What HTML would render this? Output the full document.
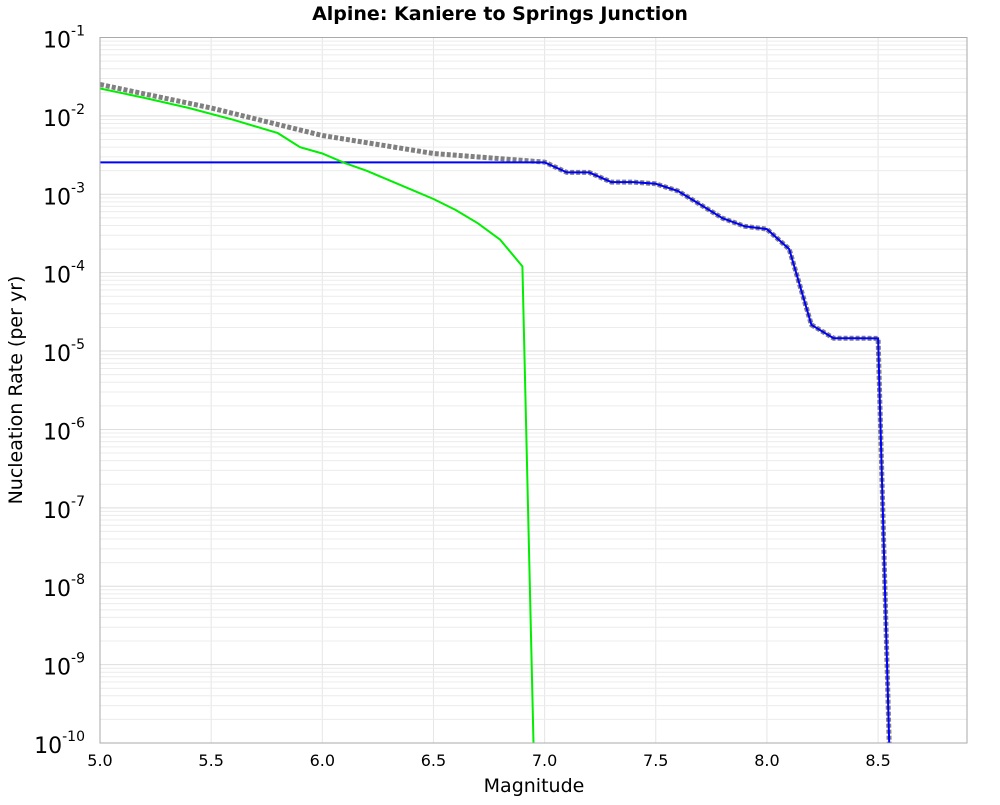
<!DOCTYPE html>
<html><head><meta charset="utf-8"><style>
body{margin:0;background:#fff;}
svg text{font-family:"DejaVu Sans","Liberation Sans",sans-serif;}
</style></head><body>
<svg id="chart" width="1000" height="800" xmlns="http://www.w3.org/2000/svg">
<text x="500" y="20" text-anchor="middle" font-size="19" font-weight="bold">Alpine: Kaniere to Springs Junction</text>
<g id="grid"></g>
<g id="axes"></g>
<g id="series"></g>
<rect x="100" y="37.5" width="867" height="705.5" fill="none" stroke="#aaa" stroke-width="1"/>
<text x="534" y="792" text-anchor="middle" font-size="19">Magnitude</text>
<text transform="translate(22,390) rotate(-90)" text-anchor="middle" font-size="19">Nucleation Rate (per yr)</text>
</svg>
<script>
const xTicks=[5.0,5.5,6.0,6.5,7.0,7.5,8.0,8.5];
const yExps=[-1,-2,-3,-4,-5,-6,-7,-8,-9,-10];
const grayM=[5.0,5.5,6.0,6.5,7.0];
const grayLog=[-1.6,-1.9,-2.25,-2.48,-2.59];
const blueM=[5.0,7.0,7.1,7.2,7.3,7.4,7.5,7.6,7.7,7.8,7.9,8.0,8.1,8.2,8.3,8.4,8.5,8.55];
const blueV=[2.55e-3,2.55e-3,1.9e-3,1.9e-3,1.43e-3,1.43e-3,1.36e-3,1.1e-3,7.4e-4,4.95e-4,3.9e-4,3.6e-4,2.0e-4,2.16e-5,1.46e-5,1.46e-5,1.45e-5,1e-10];
const greenM=[5.0,5.2,5.4,5.6,5.8,5.9,6.0,6.1,6.2,6.3,6.4,6.5,6.6,6.7,6.8,6.9,6.95];
const greenLog=[-1.65,-1.77,-1.9,-2.05,-2.22,-2.40,-2.48,-2.6,-2.7,-2.82,-2.94,-3.06,-3.2,-3.37,-3.58,-3.92,-10];
const NS="http://www.w3.org/2000/svg";
const X0=100,X1=967,Y0=37.5,Y1=743,MMIN=5.0,MMAX=8.9,LTOP=-1,LBOT=-10;
function xs(m){return X0+(m-MMIN)/(MMAX-MMIN)*(X1-X0);}
function ys(l){return Y0+(LTOP-l)/(LTOP-LBOT)*(Y1-Y0);}
function mk(tag,attrs,parent){const e=document.createElementNS(NS,tag);for(const k in attrs)e.setAttribute(k,attrs[k]);parent.appendChild(e);return e;}
const grid=document.getElementById('grid'),axes=document.getElementById('axes'),ser=document.getElementById('series');
for(let m=5.5;m<8.9;m+=0.5){const l=mk('line',{x1:xs(m),x2:xs(m),y1:Y0,y2:Y1,stroke:'#e6e6e6'},grid);

}
for(let d=-10;d<-1;d++){for(let k=2;k<=9;k++){const yy=ys(d+Math.log10(k));const l=mk('line',{x1:X0,x2:X1,y1:yy,y2:yy,stroke:'#ececec'},grid);

}
const yy=ys(d);const l=mk('line',{x1:X0,x2:X1,y1:yy,y2:yy,stroke:'#dedede'},grid);

}
xTicks.forEach(m=>{const t=mk('text',{x:xs(m),y:766,'text-anchor':'middle','font-size':'16'},axes);t.textContent=m.toFixed(1);

});
yExps.forEach(e=>{const t=mk('text',{x:85,y:ys(e)+10,'text-anchor':'end','font-size':'22'},axes);


t.textContent='10';const s=mk('tspan',{'font-size':'14',dy:'-12'},t);s.textContent=String(e);});
function path(ms,ls,attrs,name){const d=ms.map((m,i)=>(i?'L':'M')+xs(m).toFixed(1)+','+ys(Math.max(ls[i],-10.2)).toFixed(1)).join(' ');
const p=mk('path',Object.assign({d:d,fill:'none'},attrs),ser);

return p;}
const clip=mk('clipPath',{id:'pc'},ser);mk('rect',{x:X0,y:Y0,width:X1-X0,height:Y1-Y0},clip);
ser.setAttribute('clip-path','url(#pc)');
const blueLog=blueV.map(v=>Math.log10(v));
path(grayM.concat(blueM.slice(2)),grayLog.concat(blueLog.slice(2)),{stroke:'#808080','stroke-width':'5','stroke-dasharray':'4,2'},'total-rate-line');
path(blueM,blueLog,{stroke:'#0000ff','stroke-width':'2'},'supra-seismic-line');
path(greenM,greenLog,{stroke:'#00ee00','stroke-width':'2'},'sub-seismic-line');
</script>
</body></html>
